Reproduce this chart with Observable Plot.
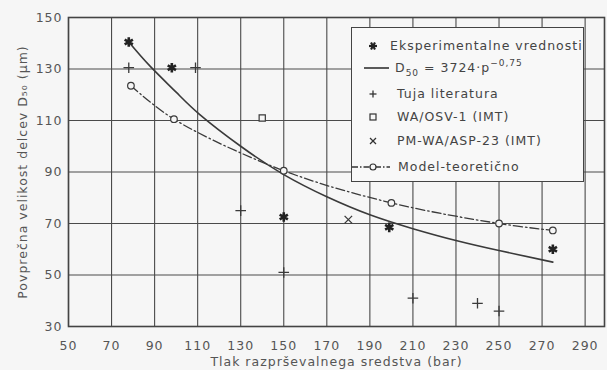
<!DOCTYPE html>
<html><head><meta charset="utf-8">
<script src="https://cdn.jsdelivr.net/npm/d3@7"></script>
<script src="https://cdn.jsdelivr.net/npm/@observablehq/plot@0.6"></script>
<style>
body{margin:0;background:#f6f6f6;}
#wrap{position:relative;width:607px;height:370px;}
#legend{position:absolute;left:351px;top:27px;width:231px;height:153px;border:1.5px solid #444;background:#f8f8f8;overflow:hidden}
</style></head><body><div id="wrap"></div>
<script>
// tick labels
const xTicks = [50, 70, 90, 110, 130, 150, 170, 190, 210, 230, 250, 270, 290];
const yTicks = [30, 50, 70, 90, 110, 130, 150];
// Eksperimentalne vrednosti (asterisk)
const expP = [78, 98, 150, 199, 275];
const expD = [140.5, 130.5, 72.5, 68.5, 60];
// Tuja literatura (+)
const litP = [78, 109, 130, 150, 210, 240, 250];
const litD = [130.5, 130.5, 75, 51, 41, 39, 36];
// WA/OSV-1 (IMT) (square)
const waP = [140];
const waD = [111];
// PM-WA/ASP-23 (IMT) (x)
const pmP = [180];
const pmD = [71.5];
// Model-teoreticno (dash-dot with circles)
const modelP = [79, 99, 150, 200, 250, 275];
const modelD = [123.5, 110.5, 90.5, 78, 70, 67.3];
// D50 = 3724 p^-0.75 fitted curve
const fitP = [78, 88, 100, 111, 130, 150, 170, 190, 210, 230, 250, 275];
const fitD = [140.5, 131, 121, 112.3, 100, 89, 80.4, 73.4, 68, 63.4, 59.5, 55];
const legendLabels = ["Eksperimentalne vrednosti", "D50 = 3724·p-0,75", "Tuja literatura", "WA/OSV-1 (IMT)", "PM-WA/ASP-23 (IMT)", "Model-teoretično"];

const zip = (a, b) => a.map((p, i) => ({p, d: b[i]}));
const ink = "#3a3a3a";

const chart = Plot.plot({
  width: 607, height: 370,
  marginLeft: 68, marginRight: 3, marginTop: 17, marginBottom: 44,
  style: {fontFamily: "DejaVu Sans", fontSize: "12px", letterSpacing: "1px", color: "#555", background: "#f6f6f6"},
  x: {domain: [50, 299]},
  y: {domain: [30, 150]},
  marks: [
    Plot.gridX(xTicks, {stroke: "#4a4a4a", strokeOpacity: 1, strokeWidth: 1.1}),
    Plot.gridY(yTicks, {stroke: "#4a4a4a", strokeOpacity: 1, strokeWidth: 1.1}),
    Plot.frame({stroke: "#444", strokeWidth: 1.6}),
    Plot.axisX(xTicks, {tickSize: 0, tickPadding: 15, fontSize: 12.5, fill: "#555",
      label: "Tlak razprševalnega sredstva (bar)", labelAnchor: "center", labelArrow: "none", labelOffset: 39}),
    Plot.axisY(yTicks, {tickSize: 0, tickPadding: 6, fontSize: 12.5, fill: "#555",
      label: "Povprečna velikost delcev D₅₀ (µm)", labelAnchor: "center", labelArrow: "none", labelOffset: 50}),
    Plot.line(zip(fitP, fitD), {x: "p", y: "d", curve: "natural", stroke: ink, strokeWidth: 1.6}),
    Plot.line(zip(modelP, modelD), {x: "p", y: "d", curve: "catmull-rom", stroke: ink, strokeWidth: 1.3, strokeDasharray: "9,3,1.5,3"}),
    Plot.dot(zip(modelP, modelD), {x: "p", y: "d", r: 3.3, stroke: ink, fill: "#f6f6f6", strokeWidth: 1.2}),
    Plot.dot(zip(expP, expD), {x: "p", y: "d", symbol: "asterisk", r: 4.5, stroke: "#222", strokeWidth: 2.6}),
    Plot.dot(zip(litP, litD), {x: "p", y: "d", symbol: "plus", r: 3.5, stroke: ink, strokeWidth: 1.3}),
    Plot.dot(zip(waP, waD), {x: "p", y: "d", symbol: "square", r: 3.5, stroke: ink, fill: "#f6f6f6", strokeWidth: 1.2}),
    Plot.dot(zip(pmP, pmD), {x: "p", y: "d", symbol: "times", r: 3.5, stroke: ink, strokeWidth: 1.3})
  ]
});
const wrap = document.getElementById("wrap");
wrap.appendChild(chart);

// legend overlay
const leg = document.createElement("div");
leg.id = "legend";
const rowsY = [18, 40, 66, 89, 113, 139];
let s = `<svg width="231" height="153" style="font-family:'DejaVu Sans';font-size:12.5px;letter-spacing:1px;fill:#444">`;
const sx = 21, tx = 44;
// row 0: asterisk
s += `<g stroke="#222" stroke-width="2.2">` +
  [0, 60, 120].map(a => { const r = 4, c = Math.cos(a*Math.PI/180)*r, d = Math.sin(a*Math.PI/180)*r; return `<line x1="${sx-c}" y1="${rowsY[0]-d}" x2="${sx+c}" y2="${rowsY[0]+d}"/>`; }).join("") + `</g>`;
s += `<text x="${tx-6}" y="${rowsY[0]}" dy="0.35em">${legendLabels[0]}</text>`;
// row 1: solid line + formula
s += `<line x1="12" x2="37" y1="${rowsY[1]}" y2="${rowsY[1]}" stroke="#333" stroke-width="1.6"/>`;
s += `<text x="${tx-1}" y="${rowsY[1]}" dy="0.35em">D<tspan font-size="9" dy="4">50</tspan><tspan dy="-4"> = 3724·p</tspan><tspan font-size="9" dy="-6">−0,75</tspan></text>`;
// row 2: plus
s += `<g stroke="#333" stroke-width="1.3"><line x1="${sx-3.5}" x2="${sx+3.5}" y1="${rowsY[2]}" y2="${rowsY[2]}"/><line x1="${sx}" x2="${sx}" y1="${rowsY[2]-3.5}" y2="${rowsY[2]+3.5}"/></g>`;
s += `<text x="${tx+1}" y="${rowsY[2]}" dy="0.35em">${legendLabels[2]}</text>`;
// row 3: square
s += `<rect x="${sx-3}" y="${rowsY[3]-3}" width="6" height="6" fill="none" stroke="#333" stroke-width="1.2"/>`;
s += `<text x="${tx+1}" y="${rowsY[3]}" dy="0.35em">${legendLabels[3]}</text>`;
// row 4: times
s += `<g stroke="#333" stroke-width="1.3"><line x1="${sx-3}" x2="${sx+3}" y1="${rowsY[4]-3}" y2="${rowsY[4]+3}"/><line x1="${sx-3}" x2="${sx+3}" y1="${rowsY[4]+3}" y2="${rowsY[4]-3}"/></g>`;
s += `<text x="${tx+1}" y="${rowsY[4]}" dy="0.35em">${legendLabels[4]}</text>`;
// row 5: dash-dot line with circle
s += `<line x1="0" x2="38" y1="${rowsY[5]}" y2="${rowsY[5]}" stroke="#333" stroke-width="1.3" stroke-dasharray="6,2,1.5,2"/>`;
s += `<circle cx="${sx}" cy="${rowsY[5]}" r="3" fill="#f8f8f8" stroke="#333" stroke-width="1.2"/>`;
s += `<text x="${tx+2}" y="${rowsY[5]}" dy="0.35em">${legendLabels[5]}</text>`;
s += `</svg>`;
leg.innerHTML = s;
wrap.appendChild(leg);
</script>
</body></html>
